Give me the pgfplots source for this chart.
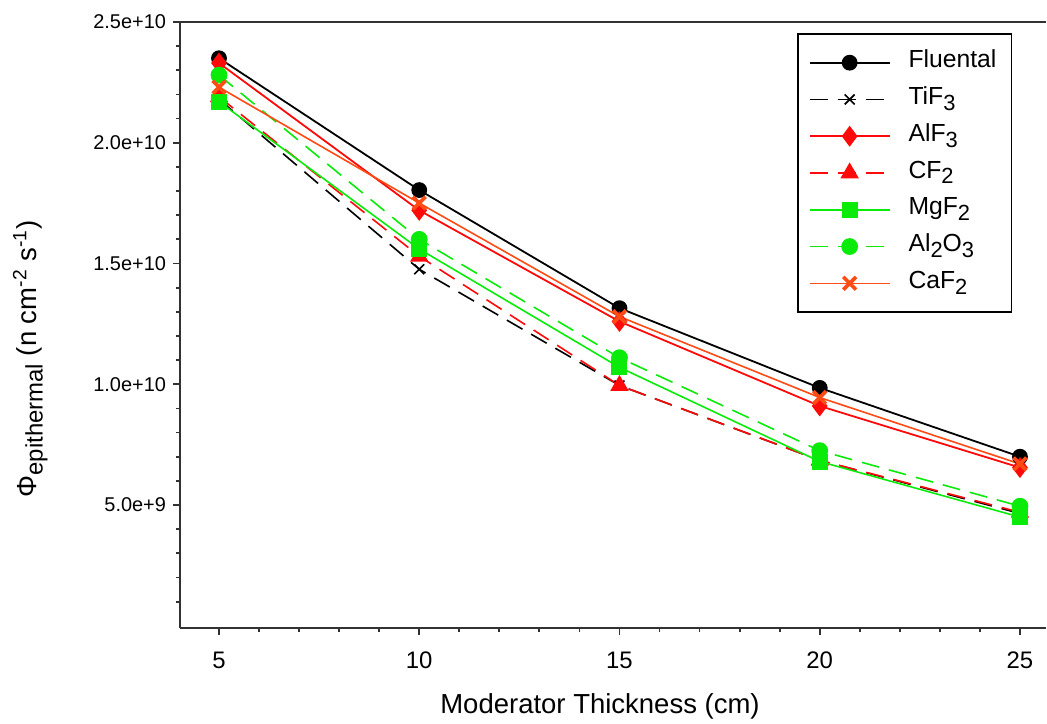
\documentclass[border=0pt]{standalone}
\usepackage{fontspec}
\setmainfont{Liberation Sans}
\usepackage{pgfplots}
\pgfplotsset{compat=1.18}
\definecolor{myred}{RGB}{255,10,10}
\definecolor{mygreen}{RGB}{10,235,10}
\definecolor{myorange}{RGB}{255,75,20}
\definecolor{axgray}{RGB}{50,50,50}
\newcommand\sub[1]{\raisebox{-0.45ex}{\fontsize{11}{12}\selectfont #1}}
\begin{document}
\begin{tikzpicture}
\begin{axis}[
  scale only axis, width=433bp, height=303bp,
  xmin=4.026, xmax=25.65, ymin=-9.3e7, ymax=2.5e10,
  axis x line*=box, axis y line*=left,
  x axis line style={-, axgray, line width=1bp},
  y axis line style={-, axgray, line width=1bp},
  xtick pos=bottom, ytick pos=left,
  xtick={5,10,15,20,25},
  minor xtick={6,7,8,9,11,12,13,14,16,17,18,19,21,22,23,24},
  ytick={5e9,1e10,1.5e10,2e10,2.5e10},
  yticklabels={5.0e+9,1.0e+10,1.5e+10,2.0e+10,2.5e+10},
  minor ytick={1e9,2e9,3e9,4e9,6e9,7e9,8e9,9e9,1.1e10,1.2e10,1.3e10,1.4e10,1.6e10,1.7e10,1.8e10,1.9e10,2.1e10,2.2e10,2.3e10,2.4e10},
  scaled y ticks=false,
  tick align=outside,
  major tick length=3.5bp, minor tick length=2bp,
  every tick/.style={axgray, line width=0.9bp},
  /pgf/number format/assume math mode=true,
  yticklabel style={font=\fontsize{10}{12}\selectfont},
  xticklabel style={font=\fontsize{12}{14}\selectfont, yshift=-5bp},
  xlabel={Moderator Thickness (cm)},
  ylabel={Φ\raisebox{-0.4ex}{\fontsize{12}{14}\selectfont epithermal} (n cm\textsuperscript{-2} s\textsuperscript{-1})},
  label style={font=\fontsize{13.8}{16}\selectfont},
  xlabel style={at={(axis description cs:0.485,-0.13)}, anchor=center},
  ylabel style={at={(axis description cs:-0.173,0.444)}, anchor=center},
  legend style={at={(0.961,0.982)}, anchor=north east, draw=black, line width=0.8bp,
    font=\fontsize{12.4}{14}\selectfont, row sep=1.4bp, inner xsep=5.5bp, inner ysep=6bp,
    nodes={text height=9bp, text depth=4bp},
    /tikz/every odd column/.append style={column sep=7bp}},
  legend cell align=left,
  legend image code/.code={\draw[mark repeat=2,mark phase=2] plot coordinates {(0bp,0bp)(20bp,0bp)(40bp,0bp)};},
]
\addplot[black, line width=0.9bp, mark=*, mark size=3.5bp] coordinates {
  (5,2.35e10) (10,1.804e10) (15,1.315e10) (20,9.85e9) (25,7.0e9)};
\addlegendentry{Fluental}
\addplot[black, line width=0.8bp, dash pattern=on 9bp off 5bp, mark=x, mark size=3.5bp, mark options={solid}] coordinates {
  (5,2.18e10) (10,1.476e10) (15,9.95e9) (20,6.85e9) (25,4.65e9)};
\addlegendentry{TiF\sub{3}}
\addplot[myred, line width=0.9bp, mark=diamond*, mark size=4.5bp] coordinates {
  (5,2.33e10) (10,1.72e10) (15,1.26e10) (20,9.1e9) (25,6.55e9)};
\addlegendentry{AlF\sub{3}}
\addplot[myred, line width=0.8bp, dash pattern=on 9bp off 5bp, mark=triangle*, mark size=4.5bp, mark options={solid}] coordinates {
  (5,2.19e10) (10,1.53e10) (15,9.95e9) (20,6.85e9) (25,4.7e9)};
\addlegendentry{CF\sub{2}}
\addplot[mygreen, line width=0.8bp, mark=square*, mark size=3.6bp] coordinates {
  (5,2.17e10) (10,1.56e10) (15,1.07e10) (20,6.8e9) (25,4.5e9)};
\addlegendentry{MgF\sub{2}}
\addplot[mygreen, line width=0.8bp, dash pattern=on 9bp off 5bp, mark=*, mark size=3.8bp, mark options={solid}] coordinates {
  (5,2.28e10) (10,1.6e10) (15,1.11e10) (20,7.25e9) (25,4.95e9)};
\addlegendentry{Al\sub{2}O\sub{3}}
\addplot[myorange, line width=0.8bp, mark=x, mark size=4.5bp, mark options={line width=1.8bp}] coordinates {
  (5,2.23e10) (10,1.75e10) (15,1.28e10) (20,9.45e9) (25,6.7e9)};
\addlegendentry{CaF\sub{2}}
\coordinate (sw) at (rel axis cs:0,0);
\end{axis}
\pgfresetboundingbox
\path[use as bounding box] ([shift={(-90bp,-48bp)}]sw) rectangle ([shift={(433.5bp,314bp)}]sw);
\end{tikzpicture}
\end{document}
